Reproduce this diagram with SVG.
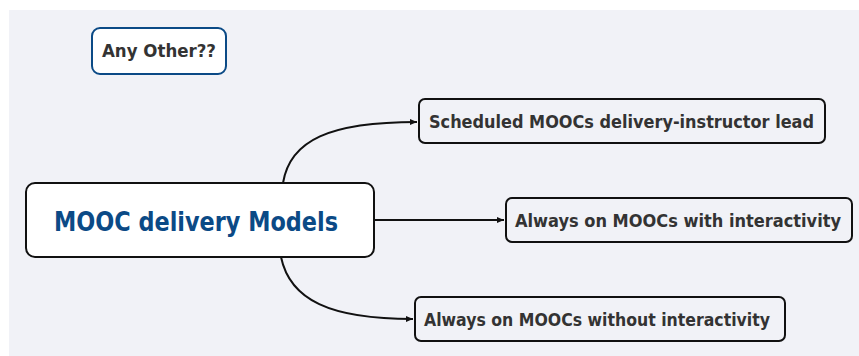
<svg xmlns="http://www.w3.org/2000/svg" width="859" height="356" viewBox="0 0 859 356">
  <defs>
    <marker id="arrow" markerWidth="8" markerHeight="8" refX="7" refY="4" orient="auto" markerUnits="userSpaceOnUse">
      <path d="M0,1 L7,4 L0,7 Z" fill="#111"/>
    </marker>
    <style>
      .bg { fill: #f1f2f7; }
      .node { fill: #f1f2f7; stroke: #111; stroke-width: 2; }
      .root { fill: #ffffff; stroke: #111; stroke-width: 2; }
      .note { fill: #ffffff; stroke: #0b4a86; stroke-width: 2; }
      .label { font-family: "DejaVu Sans Condensed", "DejaVu Sans", "Liberation Sans", sans-serif; font-weight: bold; font-size: 18px; fill: #333333; }
      .title { font-family: "DejaVu Sans Condensed", "DejaVu Sans", "Liberation Sans", sans-serif; font-weight: bold; font-size: 27px; fill: #0b4a86; }
      .link { fill: none; stroke: #111; stroke-width: 2; }
    </style>
  </defs>

  <rect x="0" y="0" width="859" height="356" fill="#ffffff"/>
  <rect class="bg" x="9" y="10" width="850" height="346"/>

  <g id="connectors">
    <path class="link" d="M283,183 C290,140 330,122 417,122" marker-end="url(#arrow)"/>
    <path class="link" d="M374,220 L504,220" marker-end="url(#arrow)"/>
    <path class="link" d="M281,257 C290,300 330,319 413,319" marker-end="url(#arrow)"/>
  </g>

  <g id="any-other">
    <rect class="note" x="92" y="28" width="134" height="46" rx="8"/>
    <text class="label" x="102" y="57" textLength="114" lengthAdjust="spacingAndGlyphs">Any Other??</text>
  </g>

  <g id="root">
    <rect class="root" x="26" y="183" width="348" height="74" rx="9"/>
    <text class="title" x="54" y="231" textLength="284" lengthAdjust="spacingAndGlyphs">MOOC delivery Models</text>
  </g>

  <g id="scheduled">
    <rect class="node" x="419" y="99" width="406" height="44" rx="6"/>
    <text class="label" x="429" y="128" textLength="385" lengthAdjust="spacingAndGlyphs">Scheduled MOOCs delivery-instructor lead</text>
  </g>

  <g id="always-with">
    <rect class="node" x="506" y="198" width="346" height="44" rx="6"/>
    <text class="label" x="515" y="227" textLength="326" lengthAdjust="spacingAndGlyphs">Always on MOOCs with interactivity</text>
  </g>

  <g id="always-without">
    <rect class="node" x="415" y="297" width="370" height="44" rx="6"/>
    <text class="label" x="424" y="326" textLength="346" lengthAdjust="spacingAndGlyphs">Always on MOOCs without interactivity</text>
  </g>
</svg>
